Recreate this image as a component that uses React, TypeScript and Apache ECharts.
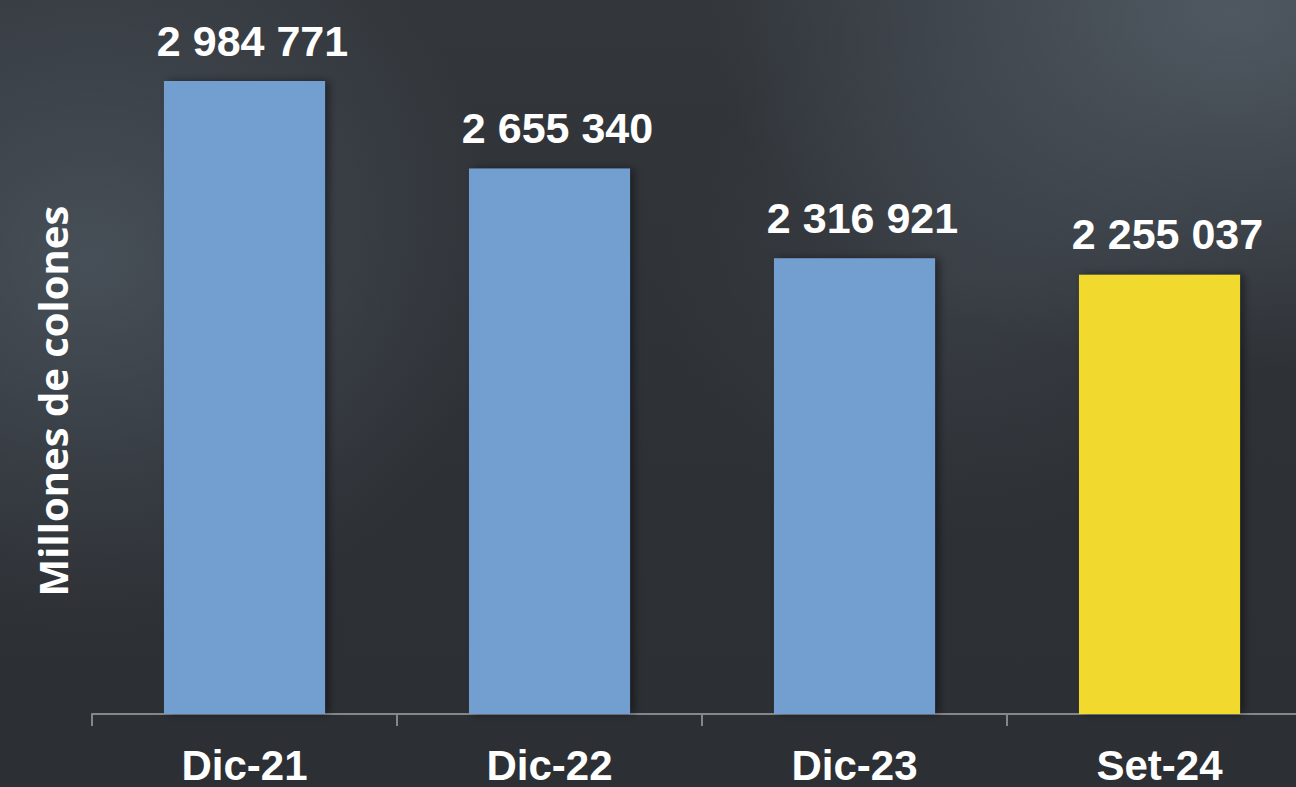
import React, { useEffect, useRef } from "react";
import * as echarts from "echarts";

const categories = ["Dic-21", "Dic-22", "Dic-23", "Set-24"];
const values = [2984771, 2655340, 2316921, 2255037];
const barColors = ["#729fcf", "#729fcf", "#729fcf", "#f1d92d"];
const yAxisTitle = "Millones de colones";

const fmt = (v: number) => String(v).replace(/\B(?=(\d{3})+(?!\d))/g, " ");

export default function App() {
  const ref = useRef<HTMLDivElement>(null);
  useEffect(() => {
    if (!ref.current) return;
    const chart = echarts.init(ref.current, undefined, { renderer: "svg" });
    chart.setOption({
      animation: false,
      backgroundColor: "transparent",
      grid: { left: 92, right: 0, top: 77, bottom: 73, containLabel: false },
      xAxis: {
        type: "category",
        data: categories,
        axisLine: { show: true, lineStyle: { color: "#85888b", width: 2 } },
        axisTick: { show: true, length: 12, lineStyle: { color: "#85888b", width: 2 } },
        axisLabel: {
          color: "#ffffff",
          fontSize: 42,
          fontWeight: "bold",
          fontFamily: "Liberation Sans, Arial, sans-serif",
          margin: 30,
        },
      },
      yAxis: {
        type: "value",
        min: 600000,
        max: 3000000,
        show: false,
        splitLine: { show: false },
      },
      graphic: [
        {
          type: "text",
          x: 52,
          y: 401,
          rotation: Math.PI / 2,
          style: {
            text: yAxisTitle,
            fill: "#ffffff",
            fontSize: 40,
            fontWeight: "bold",
            fontFamily: "Open Sans, sans-serif",
            textAlign: "center",
            textVerticalAlign: "middle",
          },
        },
      ],
      series: [
        {
          type: "bar",
          barWidth: "52.8%",
          data: values.map((v, i) => ({
            value: v,
            itemStyle: {
              color: barColors[i],
              shadowColor: "rgba(0,0,0,0.45)",
              shadowBlur: 8,
              shadowOffsetX: 4,
              shadowOffsetY: 0,
            },
          })),
          label: {
            show: true,
            position: "top",
            distance: 19,
            offset: [8, 0],
            color: "#ffffff",
            fontSize: 43,
            fontWeight: "bold",
            fontFamily: "Liberation Sans, Arial, sans-serif",
            formatter: (p: any) => fmt(p.value),
          },
        },
      ],
    });
    return () => chart.dispose();
  }, []);
  return (
    <div
      style={{
        position: "fixed",
        left: 0,
        top: 0,
        width: 1296,
        height: 787,
        overflow: "hidden",
        background:
          "radial-gradient(ellipse 420px 380px at 90px 260px, rgba(78,88,98,0.75), rgba(78,88,98,0) 100%), radial-gradient(ellipse 520px 360px at 1230px 10px, rgba(84,94,104,0.85), rgba(84,94,104,0) 100%), radial-gradient(ellipse 300px 260px at 960px 280px, rgba(70,78,86,0.4), rgba(70,78,86,0) 100%), linear-gradient(180deg, #33373c 0%, #2d3035 60%, #2c2f33 100%)",
      }}
    >
      <div ref={ref} style={{ width: 1312, height: 787 }} />
    </div>
  );
}
